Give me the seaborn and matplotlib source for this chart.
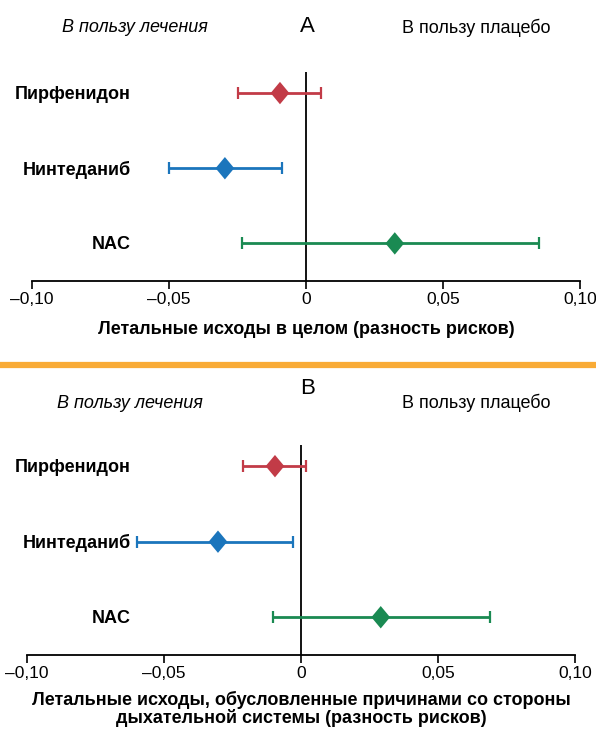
import matplotlib
matplotlib.use("Agg")
import matplotlib.pyplot as plt
import seaborn as sns
import pandas as pd
import numpy as np

# ---- data ----
drugs = ["Пирфенидон", "Нинтеданиб", "NAC"]
colors = ["#c23b47", "#1b75bc", "#1a8a52"]

a_est = [-0.0095, -0.0296, 0.0324]
a_low = [-0.0249, -0.0500, -0.0234]
a_high = [0.0054, -0.0087, 0.0851]

b_est = [-0.0095, -0.0303, 0.0291]
b_low = [-0.0213, -0.0599, -0.0101]
b_high = [0.0017, -0.0028, 0.0690]

tick_vals = [-0.10, -0.05, 0.0, 0.05, 0.10]
tick_labels = ["\u20130,10", "\u20130,05", "0", "0,05", "0,10"]

panel_letters = ["А", "В"]
left_note = "В пользу лечения"
right_note = "В пользу плацебо"
xlabel_a = "Летальные исходы в целом (разность рисков)"
xlabel_b = "Летальные исходы, обусловленные причинами со стороны\nдыхательной системы (разность рисков)"

sns.set_style("white")
plt.rcParams["font.family"] = ["Liberation Sans Narrow", "Liberation Sans", "DejaVu Sans"]
plt.rcParams["text.color"] = "black"
plt.rcParams["axes.labelcolor"] = "black"
plt.rcParams["xtick.color"] = "black"
plt.rcParams["ytick.color"] = "black"

W, H = 596, 731
fig = plt.figure(figsize=(W / 100, H / 100), dpi=100)


def px_axes(x0, y0, x1, y1):
    return fig.add_axes([x0 / W, 1 - y1 / H, (x1 - x0) / W, (y1 - y0) / H])


def panel(ax, est, low, high, xlabel, label_x, labelpad):
    df = pd.DataFrame({"drug": drugs, "est": est, "low": low, "high": high,
                       "pos": np.arange(len(drugs))})
    for i, r in df.iterrows():
        ax.errorbar(r["est"], r["pos"],
                    xerr=[[r["est"] - r["low"]], [r["high"] - r["est"]]],
                    fmt="none", ecolor=colors[i], elinewidth=2.0,
                    capsize=4, capthick=1.6, zorder=2)
    diamond = [(0, 1.2), (1, 0), (0, -1.2), (-1, 0), (0, 1.2)]
    sns.scatterplot(data=df, x="est", y="pos", hue="drug", palette=colors,
                    marker=diamond, s=260, linewidth=0, legend=False,
                    ax=ax, zorder=3)
    ax.axvline(0, color="black", lw=1.3, zorder=1)
    ax.set_xlim(-0.10, 0.10)
    ax.set_ylim(2.5, -0.28)
    ax.set_yticks([])
    for p, name in zip(df["pos"], df["drug"]):
        ax.text(label_x, p + 0.02, name, transform=ax.get_yaxis_transform(),
                ha="right", va="center", fontsize=13, fontweight="bold")
    ax.set_xticks(tick_vals)
    ax.set_xticklabels(tick_labels, fontsize=12.5)
    ax.tick_params(axis="x", direction="out", length=6, width=1.2, pad=2,
                   bottom=True, colors="black")
    for s in ["top", "right", "left"]:
        ax.spines[s].set_visible(False)
    ax.spines["bottom"].set_linewidth(1.3)
    ax.spines["bottom"].set_color("black")
    ax.set_xlabel(xlabel, fontsize=13, fontweight="bold", labelpad=labelpad,
                  linespacing=1.0)
    ax.set_ylabel("")
    ax.set_facecolor("none")


ax1 = px_axes(32, 72, 580, 281)
panel(ax1, a_est, a_low, a_high, xlabel_a, (131 - 32) / 548, 10)
ax2 = px_axes(27, 445, 575, 655)
panel(ax2, b_est, b_low, b_high, xlabel_b, (131 - 27) / 548, 7)


def ftext(x, y, s, **kw):
    fig.text(x / W, 1 - y / H, s, ha="center", va="center", **kw)


ftext(307, 27, panel_letters[0], fontsize=16, family=["Liberation Sans", "DejaVu Sans"])
ftext(135, 28, left_note, fontsize=13, style="italic")
ftext(476, 28, right_note, fontsize=13)
ftext(308, 389, panel_letters[1], fontsize=16, family=["Liberation Sans", "DejaVu Sans"])
ftext(130, 403, left_note, fontsize=13, style="italic")
ftext(476, 403, right_note, fontsize=13)

fig.add_artist(plt.Line2D([0, 1], [1 - 365 / H, 1 - 365 / H],
                          transform=fig.transFigure, color="#f9ab36", lw=4.5))

fig.savefig("out.png", dpi=100, facecolor="white")
